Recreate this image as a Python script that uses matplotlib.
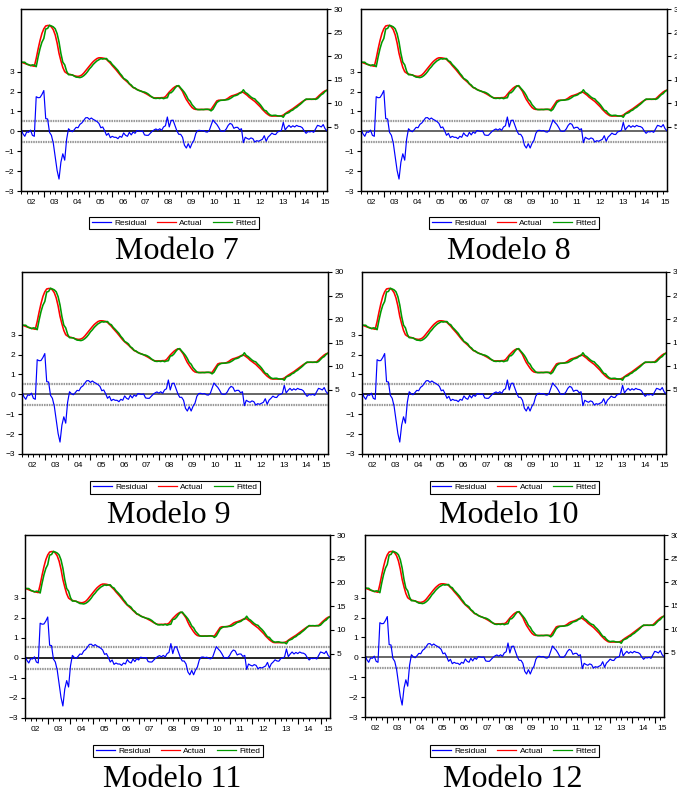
import numpy as np
import matplotlib
matplotlib.use("Agg")
import matplotlib.pyplot as plt
from matplotlib.lines import Line2D

# ---------------- data ----------------
models = ["Modelo 7", "Modelo 8", "Modelo 9", "Modelo 10", "Modelo 11", "Modelo 12"]
start_year = 2002
year_labels = ["02", "03", "04", "05", "06", "07", "08", "09", "10", "11", "12", "13", "14", "15"]
series_names = ["Residual", "Actual", "Fitted"]
se_band = 0.53

# monthly residuals 2002m1 .. 2015m6 (left axis)
residual = [
    0.13, -0.12, -0.25, -0.03, -0.05, 0.06, -0.20, -0.25, 1.74, 1.69, 1.70, 1.85,
    2.05, 0.64, 0.62, -0.05, -0.20, -0.60, -1.30, -1.97, -2.40, -1.55, -1.13, -1.45,
    -0.40, 0.13, 0.03, -0.02, 0.08, 0.20, 0.18, 0.35, 0.42, 0.55, 0.68, 0.69,
    0.60, 0.67, 0.60, 0.55, 0.49, 0.40, 0.18, 0.22, 0.03, -0.20, -0.10, -0.32,
    -0.25, -0.30, -0.30, -0.37, -0.25, -0.30, -0.08, -0.20, -0.25, -0.05, -0.18, -0.03,
    -0.10, 0.04, 0.02, 0.00, 0.02, -0.18, -0.20, -0.20, -0.10, 0.00, 0.07, 0.12,
    0.06, 0.13, 0.05, 0.22, 0.28, 0.72, 0.22, 0.55, 0.56, 0.30, 0.03, -0.15,
    -0.15, -0.30, -0.70, -0.84, -0.62, -0.84, -0.60, -0.45, -0.10, 0.04, 0.05, 0.02,
    0.04, -0.02, -0.04, 0.03, 0.30, 0.57, 0.45, 0.35, 0.20, 0.02, 0.00, 0.01,
    0.12, 0.30, 0.40, 0.35, 0.15, 0.20, 0.20, 0.08, 0.13, -0.57, -0.30, -0.36,
    -0.40, -0.33, -0.37, -0.54, -0.47, -0.50, -0.45, -0.40, -0.22, -0.50, -0.29, -0.20,
    -0.09, -0.15, -0.16, -0.03, 0.00, 0.05, 0.45, 0.07, 0.20, 0.30, 0.20, 0.28,
    0.22, 0.30, 0.25, 0.24, 0.18, 0.02, -0.10, -0.01, -0.03, 0.00, -0.05, 0.12,
    0.30, 0.27, 0.22, 0.34, 0.13, 0.03,
]

# monthly actual values (right axis)
actual = [
    18.80, 18.60, 18.45, 18.30, 18.15, 18.05, 17.95, 17.85, 19.50, 21.50, 23.30, 24.80,
    25.80, 26.40, 26.50, 26.50, 26.20, 25.60, 24.50, 22.80, 20.60, 19.00, 17.60, 16.70,
    16.40, 16.20, 16.10, 16.00, 15.85, 15.75, 15.70, 15.80, 16.00, 16.40, 16.90, 17.40,
    17.90, 18.40, 18.85, 19.20, 19.50, 19.65, 19.65, 19.60, 19.50, 19.30, 18.90, 18.50,
    18.00, 17.55, 17.10, 16.60, 16.10, 15.60, 15.20, 14.85, 14.50, 14.10, 13.70, 13.35,
    13.15, 12.95, 12.75, 12.60, 12.45, 12.20, 12.00, 11.75, 11.50, 11.30, 11.15, 11.15,
    11.15, 11.15, 11.20, 11.20, 11.40, 11.90, 12.40, 12.80, 13.20, 13.50, 13.70, 13.60,
    13.10, 12.50, 11.60, 10.80, 10.20, 9.60, 9.10, 8.80, 8.70, 8.70, 8.70, 8.70,
    8.70, 8.70, 8.70, 8.70, 8.70, 9.30, 9.90, 10.50, 10.65, 10.65, 10.65, 10.70,
    10.85, 11.10, 11.40, 11.60, 11.70, 11.85, 12.00, 12.20, 12.40, 12.30, 12.00, 11.70,
    11.30, 11.00, 10.70, 10.40, 10.00, 9.60, 9.20, 8.70, 8.30, 7.90, 7.60, 7.35,
    7.30, 7.30, 7.30, 7.30, 7.30, 7.35, 7.50, 7.80, 8.10, 8.35, 8.60, 8.85,
    9.15, 9.45, 9.75, 10.05, 10.35, 10.60, 10.80, 10.85, 10.85, 10.85, 10.85, 10.95,
    11.30, 11.70, 12.05, 12.40, 12.65, 12.80,
]

# fitted = actual - residual
fitted = [a - r for a, r in zip(actual, residual)]

# ---------------- layout ----------------
W, H = 677, 794
fig = plt.figure(figsize=(W / 100, H / 100), dpi=100)
fig.patch.set_facecolor("white")

# axes rectangles in pixels: left, top, right, bottom
rects = [(21, 9, 327, 191), (361, 9, 667, 191),
         (22, 272, 328, 454), (362, 272, 666, 454),
         (25, 535, 330, 718), (365, 535, 664, 717)]
legend_centers = [(174, 223), (514, 223), (175, 487.5), (514.5, 487.5), (178, 751), (514.5, 751)]
title_pos = [(177, 259), (509, 259), (169, 523), (509, 523), (172, 787), (513, 787)]
zero_colors = ["black", "0.3", "0.3", "black", "black", "0.3"]

C_RES, C_ACT, C_FIT = "#0000ff", "#ff0000", "#009a00"
tick_font = "Liberation Sans"

n = len(actual)
x = start_year + np.arange(n) / 12.0
x_end = x[-1]
label_pos = [start_year + k + 0.47 for k in range(len(year_labels))]
label_pos[-1] = min(label_pos[-1], x_end - 0.09)

for k, name in enumerate(models):
    L, T, R, B = rects[k]
    ax = fig.add_axes([L / W, 1 - B / H, (R - L) / W, (B - T) / H])
    ax2 = ax.twinx()

    ax.axhline(se_band, color="0.6", lw=1.6, ls=(0, (0.7, 0.4)), zorder=1)
    ax.axhline(-se_band, color="0.6", lw=1.6, ls=(0, (0.7, 0.4)), zorder=1)
    ax.axhline(0, color=zero_colors[k], lw=1.2, zorder=2)
    ax.plot(x, residual, color=C_RES, lw=0.85, zorder=3)

    ax2.plot(x, actual, color=C_ACT, lw=1.15)
    ax2.plot(x, fitted, color=C_FIT, lw=1.15)

    ax.set_xlim(start_year, x_end)
    ax.set_ylim(-3, 6.15)
    ax2.set_ylim(-8.6, 30)
    ax.set_yticks(range(-3, 4))
    ax2.set_yticks(range(5, 31, 5))

    for a in (ax, ax2):
        for s in a.spines.values():
            s.set_linewidth(0.9)
            s.set_color("black")
    ax.tick_params(axis="y", direction="out", length=3, width=0.8, labelsize=6, pad=2)
    ax2.tick_params(axis="y", direction="out", length=2.7, width=0.8, labelsize=6, pad=2)

    # year boundary ticks (major) and quarterly ticks (minor)
    ax.set_xticks(np.arange(start_year + 1, int(x_end) + 1))
    ax.set_xticks(np.arange(start_year, x_end + 0.01, 0.25), minor=True)
    ax.tick_params(axis="x", which="major", direction="out", length=4, width=0.8, labelbottom=False)
    ax.tick_params(axis="x", which="minor", direction="out", length=2, width=0.7)

    sec = ax.secondary_xaxis("bottom")
    sec.set_xticks(label_pos, year_labels)
    sec.tick_params(axis="x", length=0, labelsize=6, pad=5.5)
    sec.spines["bottom"].set_visible(False)
    for lab in sec.get_xticklabels() + ax.get_yticklabels() + ax2.get_yticklabels():
        lab.set_fontfamily(tick_font)

    handles = [Line2D([], [], color=C_RES, lw=0.9),
               Line2D([], [], color=C_ACT, lw=0.9),
               Line2D([], [], color=C_FIT, lw=0.9)]
    cx, cy = legend_centers[k]
    leg = fig.legend(handles, series_names, loc="center", bbox_to_anchor=(cx / W, 1 - cy / H),
                     ncol=3, frameon=True, fancybox=False, edgecolor="black", framealpha=1,
                     handlelength=2.3, handletextpad=0.4, columnspacing=1.2, borderpad=0.3,
                     borderaxespad=0, prop={"family": tick_font, "size": 6})
    leg.get_frame().set_linewidth(0.8)

    tx, ty = title_pos[k]
    fig.text(tx / W, 1 - ty / H, name, ha="center", va="baseline",
             fontsize=23, family="Liberation Serif")

fig.savefig("out.png", dpi=100)
